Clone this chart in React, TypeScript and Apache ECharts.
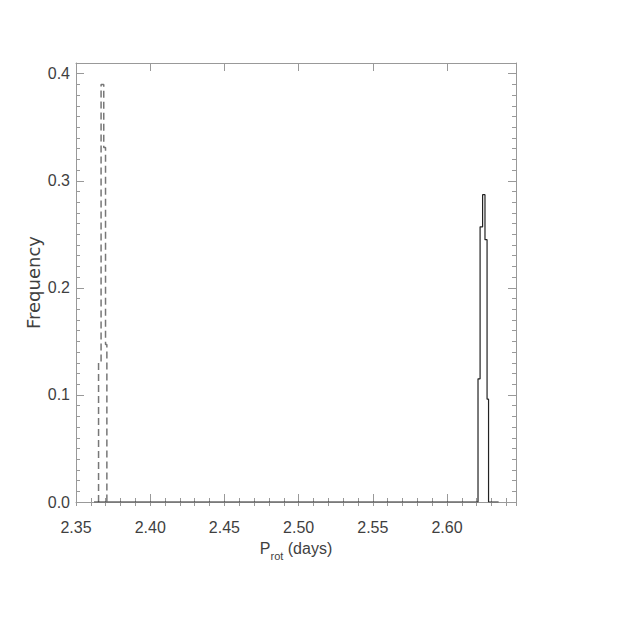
import React, { useEffect, useRef } from "react";
import * as echarts from "echarts";

// Solid histogram (P_rot ~2.62 d): bin edges and normalised frequencies
const solidEdges = [2.6209, 2.6223, 2.624, 2.6256, 2.627, 2.628];
const solidFreq = [0.115, 0.257, 0.287, 0.245, 0.096];
const solidRange = [2.3621, 2.6348]; // extent of the zero-height bins

// Dashed histogram (P_rot ~2.367 d)
const dashedEdges = [2.3652, 2.3669, 2.3687, 2.3699, 2.3708];
const dashedFreq = [0.131, 0.39, 0.331, 0.147];

const xMin = 2.35;
const xMax = 2.6465;
const yMin = 0;
const yMax = 0.41;

function stepPoints(edges: number[], freq: number[], range?: number[]) {
  const pts: number[][] = [];
  if (range) pts.push([range[0], 0]);
  pts.push([edges[0], 0]);
  for (let i = 0; i < freq.length; i++) {
    pts.push([edges[i], freq[i]]);
    pts.push([edges[i + 1], freq[i]]);
  }
  pts.push([edges[edges.length - 1], 0]);
  if (range) pts.push([range[1], 0]);
  return pts;
}

const isMult = (v: number, step: number) =>
  Math.abs(v / step - Math.round(v / step)) < 1e-6;

export default function App() {
  const ref = useRef<HTMLDivElement>(null);
  useEffect(() => {
    if (!ref.current) return;
    const chart = echarts.init(ref.current, null, { renderer: "svg" });
    const frame = "#999";
    const labelFont = {
      fontFamily: "Liberation Sans",
      fontSize: 16,
      color: "#3f3f3f",
    };
    const major = (pos: string, interval: number, min: number, max: number, extra: any = {}) => ({
      type: "value",
      position: pos,
      min,
      max,
      interval,
      axisLine: { show: true, onZero: false, lineStyle: { color: frame, width: 1 } },
      axisTick: { show: true, inside: true, length: 8, lineStyle: { color: frame } },
      axisLabel: { show: false },
      splitLine: { show: false },
      ...extra,
    });
    const minor = (pos: string, interval: number, min: number, max: number) => ({
      type: "value",
      position: pos,
      min,
      max,
      interval,
      axisLine: { show: false },
      axisTick: { show: true, inside: true, length: 4, lineStyle: { color: frame } },
      axisLabel: { show: false },
      splitLine: { show: false },
    });

    chart.setOption({
      animation: false,
      backgroundColor: "#fff",
      grid: { left: 76, top: 63, width: 440, height: 439, containLabel: false },
      xAxis: [
        major("bottom", 0.05, xMin, xMax, {
          axisLabel: {
            show: true,
            margin: 17,
            ...labelFont,
            formatter: (v: number) => (isMult(v, 0.05) ? v.toFixed(2) : ""),
          },
          name: "{a|P}{b|rot}{a| (days)}",
          nameLocation: "middle",
          nameGap: 33,
          nameMoveOverlap: false,
          nameTextStyle: {
            rich: {
              a: { ...labelFont, lineHeight: 26 },
              b: {
                fontFamily: "Liberation Sans",
                fontSize: 11,
                color: "#3f3f3f",
                lineHeight: 11,
                verticalAlign: "bottom",
              },
            },
          },
        }),
        minor("bottom", 0.01, xMin, xMax),
        major("top", 0.05, xMin, xMax),
        minor("top", 0.01, xMin, xMax),
      ],
      yAxis: [
        major("left", 0.1, yMin, yMax, {
          axisLabel: {
            show: true,
            margin: 6,
            ...labelFont,
            formatter: (v: number) => (isMult(v, 0.1) ? v.toFixed(1) : ""),
          },
          name: "Frequency",
          nameLocation: "middle",
          nameGap: 34,
          nameMoveOverlap: false,
          nameTextStyle: {
            fontFamily: "DejaVu Sans",
            fontSize: 18,
            color: "#3f3f3f",
          },
        }),
        minor("left", 0.01, yMin, yMax),
        major("right", 0.1, yMin, yMax),
        minor("right", 0.01, yMin, yMax),
      ],
      series: [
        {
          type: "line",
          xAxisIndex: 0,
          yAxisIndex: 0,
          data: stepPoints(dashedEdges, dashedFreq),
          showSymbol: false,
          symbol: "none",
          lineStyle: { color: "#777", width: 1.5, type: [7, 4] },
          z: 3,
        },
        {
          type: "line",
          xAxisIndex: 0,
          yAxisIndex: 0,
          data: stepPoints(solidEdges, solidFreq, solidRange),
          showSymbol: false,
          symbol: "none",
          lineStyle: { color: "#222", width: 1.2 },
          z: 4,
        },
      ],
    });
    return () => chart.dispose();
  }, []);
  return (
    <div
      ref={ref}
      style={{ position: "fixed", left: 0, top: 0, width: 628, height: 628 }}
    />
  );
}
